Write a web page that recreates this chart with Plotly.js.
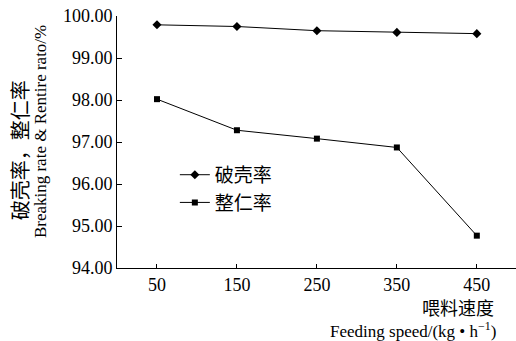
<!DOCTYPE html>
<html><head><meta charset="utf-8">
<script src="https://cdn.plot.ly/plotly-3.0.1.min.js"></script>
<style>html,body{margin:0;padding:0;background:#fff}</style>
</head><body><div id="chart" style="width:516px;height:341px"></div>
<script>
var speeds = [50, 150, 250, 350, 450];
var breakingRate = [99.79, 99.75, 99.65, 99.61, 99.58];
var entireRate = [98.02, 97.28, 97.08, 96.87, 94.77];
var seriesNames = ['破壳率', '整仁率'];
var yTickVals = [94, 95, 96, 97, 98, 99, 100];
var yTickText = ['94.00', '95.00', '96.00', '97.00', '98.00', '99.00', '100.00'];

var serif = '"Liberation Serif", "Times New Roman", "Noto Sans CJK SC", serif';
var cjk = '"Noto Sans CJK SC", serif';
var data = [
  {x: speeds, y: breakingRate, name: seriesNames[0], mode: 'lines+markers', type: 'scatter',
   line: {color: '#000', width: 1}, marker: {symbol: 'diamond', size: 7, color: '#000'}},
  {x: speeds, y: entireRate, name: seriesNames[1], mode: 'lines+markers', type: 'scatter',
   line: {color: '#000', width: 1}, marker: {symbol: 'square', size: 6, color: '#000'}}
];
var layout = {
  width: 516, height: 341,
  margin: {l: 117, r: 0, t: 16, b: 73},
  paper_bgcolor: '#fff', plot_bgcolor: '#fff',
  font: {family: serif, size: 18, color: '#000'},
  showlegend: true,
  legend: {x: 0.145, y: 0.445, xanchor: 'left', yanchor: 'top', bgcolor: 'rgba(0,0,0,0)',
           font: {family: cjk, size: 19, color: '#000'}, tracegroupgap: 0},
  xaxis: {range: [0, 499], tickvals: speeds, ticks: 'inside', ticklen: 4, tickcolor: '#000',
          showline: true, linecolor: '#000', linewidth: 1, showgrid: false, zeroline: false,
          tickfont: {family: serif, size: 18}},
  yaxis: {range: [94, 100], tickvals: yTickVals, ticktext: yTickText, ticks: 'inside', ticklen: 5,
          tickcolor: '#000', showline: true, linecolor: '#000', linewidth: 1, showgrid: false,
          zeroline: false, tickfont: {family: serif, size: 18}},
  annotations: [
    {xref: 'paper', yref: 'paper', x: 0.95, y: -0.155, xanchor: 'right', yanchor: 'middle',
     showarrow: false, text: '喂料速度', font: {family: cjk, size: 18}},
    {xref: 'paper', yref: 'paper', x: 0.955, y: -0.248, xanchor: 'right', yanchor: 'middle',
     showarrow: false, text: 'Feeding speed/(kg • h<sup>−1</sup>)', font: {family: serif, size: 17}},
    {xref: 'paper', yref: 'paper', x: -0.245, y: 0.468, xanchor: 'center', yanchor: 'middle',
     showarrow: false, textangle: -90, text: '破壳率，整仁率', font: {family: cjk, size: 20}},
    {xref: 'paper', yref: 'paper', x: -0.19, y: 0.54, xanchor: 'center', yanchor: 'middle',
     showarrow: false, textangle: -90, text: 'Breaking rate &amp; Rentire rato/%', font: {family: serif, size: 17}}
  ]
};
Plotly.newPlot('chart', data, layout, {displayModeBar: false, staticPlot: true});
</script></body></html>
